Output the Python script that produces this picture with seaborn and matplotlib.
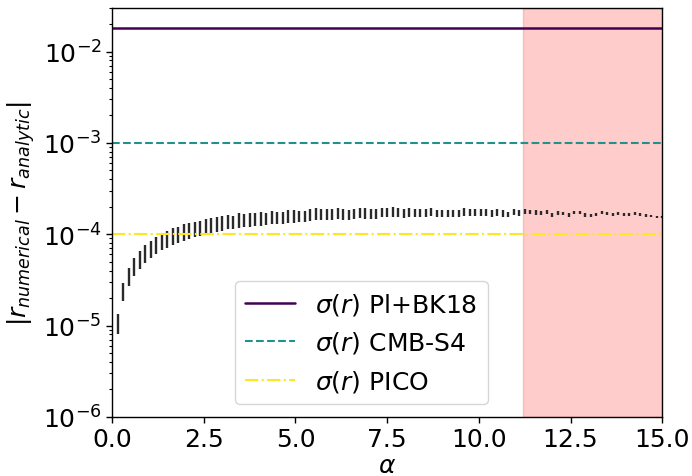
import matplotlib
matplotlib.use("Agg")
import matplotlib.pyplot as plt
from matplotlib.ticker import MultipleLocator, FormatStrFormatter
import seaborn as sns

# alpha grid of the numerical runs
alpha = [
    0.15, 0.30, 0.45, 0.60, 0.75, 0.90, 1.05, 1.20, 1.35, 1.50,
    1.65, 1.80, 1.95, 2.10, 2.25, 2.40, 2.55, 2.70, 2.85, 3.00,
    3.15, 3.30, 3.45, 3.60, 3.75, 3.90, 4.05, 4.20, 4.35, 4.50,
    4.65, 4.80, 4.95, 5.10, 5.25, 5.40, 5.55, 5.70, 5.85, 6.00,
    6.15, 6.30, 6.45, 6.60, 6.75, 6.90, 7.05, 7.20, 7.35, 7.50,
    7.65, 7.80, 7.95, 8.10, 8.25, 8.40, 8.55, 8.70, 8.85, 9.00,
    9.15, 9.30, 9.45, 9.60, 9.75, 9.90, 10.05, 10.20, 10.35, 10.50,
    10.65, 10.80, 10.95, 11.10, 11.25, 11.40, 11.55, 11.70, 11.85, 12.00,
    12.15, 12.30, 12.45, 12.60, 12.75, 12.90, 13.05, 13.20, 13.35, 13.50,
    13.65, 13.80, 13.95, 14.10, 14.25, 14.40, 14.55, 14.70, 14.85, 15.00,
]

# upper and lower ends of |r_num - r_an| at each alpha
err_high = [
    1.35e-5, 2.94e-5, 4.31e-5, 5.50e-5, 6.56e-5, 7.57e-5, 8.45e-5, 9.35e-5, 1.02e-4, 1.08e-4,
    1.16e-4, 1.19e-4, 1.28e-4, 1.33e-4, 1.37e-4, 1.40e-4, 1.46e-4, 1.49e-4, 1.54e-4, 1.58e-4,
    1.62e-4, 1.60e-4, 1.69e-4, 1.67e-4, 1.72e-4, 1.72e-4, 1.76e-4, 1.73e-4, 1.79e-4, 1.76e-4,
    1.77e-4, 1.84e-4, 1.85e-4, 1.81e-4, 1.81e-4, 1.88e-4, 1.93e-4, 1.87e-4, 1.88e-4, 1.91e-4,
    1.95e-4, 1.88e-4, 1.85e-4, 1.91e-4, 1.95e-4, 1.93e-4, 1.88e-4, 1.88e-4, 1.96e-4, 1.95e-4,
    2.00e-4, 1.96e-4, 1.91e-4, 1.95e-4, 1.91e-4, 1.87e-4, 1.88e-4, 1.95e-4, 1.84e-4, 1.84e-4,
    1.84e-4, 1.85e-4, 1.84e-4, 1.95e-4, 1.88e-4, 1.87e-4, 1.88e-4, 1.91e-4, 1.84e-4, 1.88e-4,
    1.84e-4, 1.76e-4, 1.88e-4, 1.84e-4, 1.87e-4, 1.84e-4, 1.84e-4, 1.81e-4, 1.84e-4, 1.72e-4,
    1.79e-4, 1.76e-4, 1.69e-4, 1.81e-4, 1.81e-4, 1.69e-4, 1.66e-4, 1.69e-4, 1.81e-4, 1.76e-4,
    1.69e-4, 1.76e-4, 1.72e-4, 1.69e-4, 1.76e-4, 1.69e-4, 1.66e-4, 1.62e-4, 1.59e-4, 1.60e-4,
]
err_low = [
    8.1e-6, 1.84e-5, 2.71e-5, 3.49e-5, 4.12e-5, 4.89e-5, 5.51e-5, 6.14e-5, 6.67e-5, 7.14e-5,
    7.57e-5, 7.96e-5, 8.45e-5, 8.97e-5, 9.35e-5, 9.59e-5, 1.00e-4, 1.03e-4, 1.06e-4, 1.09e-4,
    1.13e-4, 1.14e-4, 1.17e-4, 1.19e-4, 1.21e-4, 1.22e-4, 1.24e-4, 1.26e-4, 1.28e-4, 1.29e-4,
    1.29e-4, 1.32e-4, 1.33e-4, 1.36e-4, 1.36e-4, 1.40e-4, 1.43e-4, 1.43e-4, 1.45e-4, 1.45e-4,
    1.48e-4, 1.43e-4, 1.43e-4, 1.48e-4, 1.49e-4, 1.48e-4, 1.48e-4, 1.48e-4, 1.53e-4, 1.53e-4,
    1.54e-4, 1.53e-4, 1.51e-4, 1.55e-4, 1.53e-4, 1.54e-4, 1.55e-4, 1.59e-4, 1.55e-4, 1.55e-4,
    1.55e-4, 1.55e-4, 1.54e-4, 1.60e-4, 1.59e-4, 1.58e-4, 1.58e-4, 1.59e-4, 1.55e-4, 1.58e-4,
    1.55e-4, 1.55e-4, 1.62e-4, 1.59e-4, 1.66e-4, 1.66e-4, 1.63e-4, 1.63e-4, 1.66e-4, 1.55e-4,
    1.64e-4, 1.62e-4, 1.55e-4, 1.66e-4, 1.66e-4, 1.55e-4, 1.55e-4, 1.58e-4, 1.66e-4, 1.63e-4,
    1.58e-4, 1.63e-4, 1.60e-4, 1.58e-4, 1.63e-4, 1.58e-4, 1.55e-4, 1.53e-4, 1.51e-4, 1.51e-4,
]

# forecast sensitivities on r
sigma_labels = [r"$\sigma(r)$ Pl+BK18", r"$\sigma(r)$ CMB-S4", r"$\sigma(r)$ PICO"]
sigma_values = [1.8e-2, 1e-3, 1e-4]

# region where the numerical solution is excluded
excluded_range = [11.2, 15.0]


def main():
    sns.set_theme(style="ticks")
    plt.rcParams["font.family"] = ["DejaVu Sans"]
    plt.rcParams["mathtext.fontset"] = "dejavusans"
    for key in ["text.color", "axes.labelcolor", "xtick.color", "ytick.color", "axes.edgecolor"]:
        plt.rcParams[key] = "black"

    fig, ax = plt.subplots(figsize=(6.92, 4.77), dpi=100)
    fig.subplots_adjust(left=0.162, right=0.957, top=0.981, bottom=0.124)

    ax.vlines(alpha, err_low, err_high, color="#2a2a2a", linewidth=1.7)

    styles = [
        dict(color="#440154", linestyle="-", linewidth=1.8),
        dict(color="#21918c", linestyle="--", linewidth=1.5),
        dict(color="#fde725", linestyle="-.", linewidth=1.5),
    ]
    for label, value, style in zip(sigma_labels, sigma_values, styles):
        ax.axhline(value, label=label, **style)

    ax.axvspan(excluded_range[0], excluded_range[1], color="red", alpha=0.2)

    ax.set_yscale("log")
    ax.set_xlim(0, 15)
    ax.set_ylim(1e-6, 3e-2)
    ax.xaxis.set_major_locator(MultipleLocator(2.5))
    ax.xaxis.set_major_formatter(FormatStrFormatter("%.1f"))
    ax.set_xlabel(r"$\alpha$", fontsize=18, labelpad=1)
    ax.set_ylabel(r"$|r_{numerical} - r_{analytic}|$", fontsize=18)
    ax.tick_params(axis="both", which="major", labelsize=18, direction="out", length=4, width=1)
    ax.tick_params(axis="y", which="minor", length=2.5, width=0.8)
    for spine in ax.spines.values():
        spine.set_linewidth(1.0)

    ax.legend(loc="lower left", bbox_to_anchor=(0.224, 0.032), borderaxespad=0,
              fontsize=18, frameon=True, framealpha=0.8, edgecolor="#cccccc",
              handlelength=2.0)

    fig.savefig("out.png", dpi=100)
    plt.close(fig)


if __name__ == "__main__":
    main()
